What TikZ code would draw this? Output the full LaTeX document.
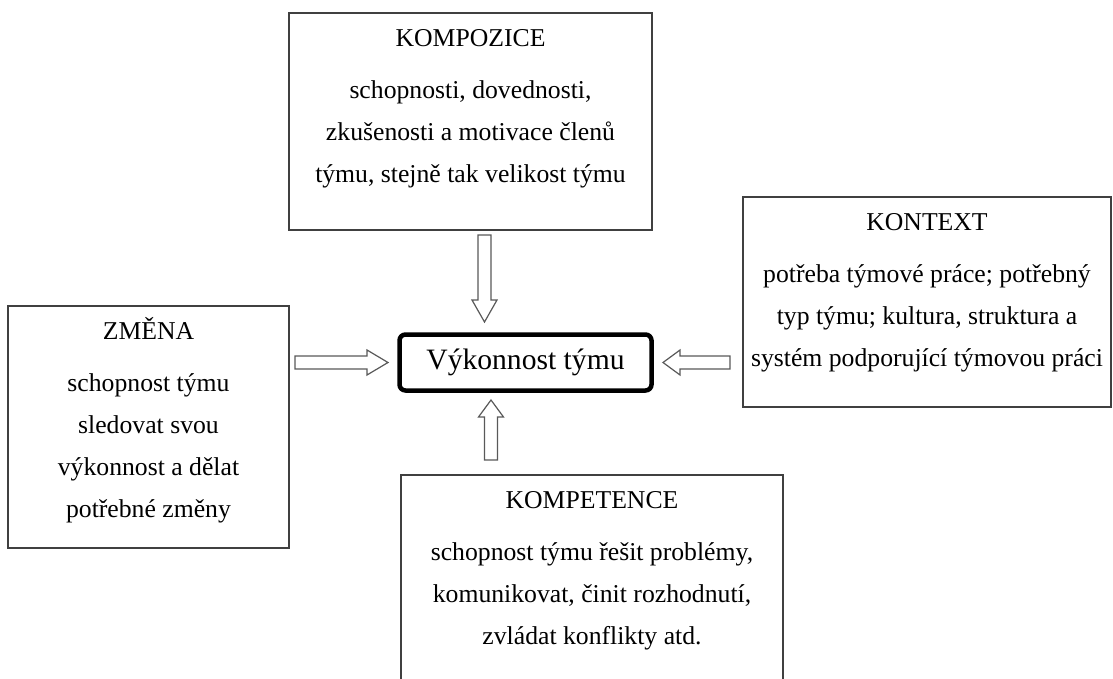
\documentclass[tikz,border=0pt]{standalone}
\usepackage{fontspec}
\setmainfont{Liberation Serif}
\usetikzlibrary{calc}
\usetikzlibrary{positioning}

\tikzset{
  box/.style={draw=black!75, line width=1.2pt, fill=white, inner sep=0pt},
  boxtext/.style={inner sep=0pt, align=center, font=\fontsize{25.7}{42}\selectfont},
  mainbox/.style={draw=black, line width=4.5pt, rounded corners=6pt, minimum width=252pt, minimum height=56pt, inner sep=0pt, font=\fontsize{29.6}{34}\selectfont},
  hollow/.style={draw=black!65, line width=1.2pt, fill=white, line join=miter},
}
% hollow block arrow: #1 = placement, #2 = length, #3 = head length
\newcommand{\hollowarrow}[3]{%
  \draw[hollow, #1] (0,-6.5) -- ({#2-#3},-6.5) -- ({#2-#3},-12.5) -- (#2,0) -- ({#2-#3},12.5) -- ({#2-#3},6.5) -- (0,6.5) -- cycle;}

\begin{document}
\begin{tikzpicture}[x=1pt,y=-1pt]
\useasboundingbox (0,0) rectangle (1113,679);

%Shape: Rectangle
\node[box, minimum width=363, minimum height=217] (kompozice) at (470.5,121.5) {};
%Shape: Rectangle
\node[box, minimum width=368, minimum height=210] (kontext) at (927,302) {};
%Shape: Rectangle
\node[box, minimum width=281, minimum height=242] (zmena) at (148.5,427) {};
%Shape: Rectangle
\node[box, minimum width=382, minimum height=225] (kompetence) at (592,587.5) {};

% Text Node
\node[boxtext, below=4.6pt of kompozice.north] (kompozicetext) {\strut KOMPOZICE\\[10pt] schopnosti, dovednosti,\\ zkušenosti a motivace členů\\ týmu, stejně tak velikost týmu};
% Text Node
\node[boxtext, below=4.6pt of kontext.north] (kontexttext) {\strut KONTEXT\\[10pt] potřeba týmové práce; potřebný\\ typ týmu; kultura, struktura a\\ systém podporující týmovou práci};
% Text Node
\node[boxtext, below=4.6pt of zmena.north] (zmenatext) {\strut ZMĚNA\\[10pt] schopnost týmu\\ sledovat svou\\ výkonnost a dělat\\ potřebné změny};
% Text Node
\node[boxtext, below=4.6pt of kompetence.north] (kompetencetext) {\strut KOMPETENCE\\[10pt] schopnost týmu řešit problémy,\\ komunikovat, činit rozhodnutí,\\ zvládat konflikty atd.};

% Center
\node[mainbox] (vykonnost) at (525.5,362.5) {Výkonnost týmu};

%Arrows
\coordinate (kompozicetail) at (484.5,235);
\coordinate (zmenatail) at (295,362.5);
\coordinate (kontexttail) at (730,362.5);
\coordinate (kompetencetail) at (491,460);
\hollowarrow{shift={(kompozicetail)}, rotate=-90}{87}{22}
\hollowarrow{shift={(zmenatail)}}{93}{21}
\hollowarrow{shift={(kontexttail)}, rotate=180}{67}{17}
\hollowarrow{shift={(kompetencetail)}, rotate=90}{60}{17}

\end{tikzpicture}
\end{document}
